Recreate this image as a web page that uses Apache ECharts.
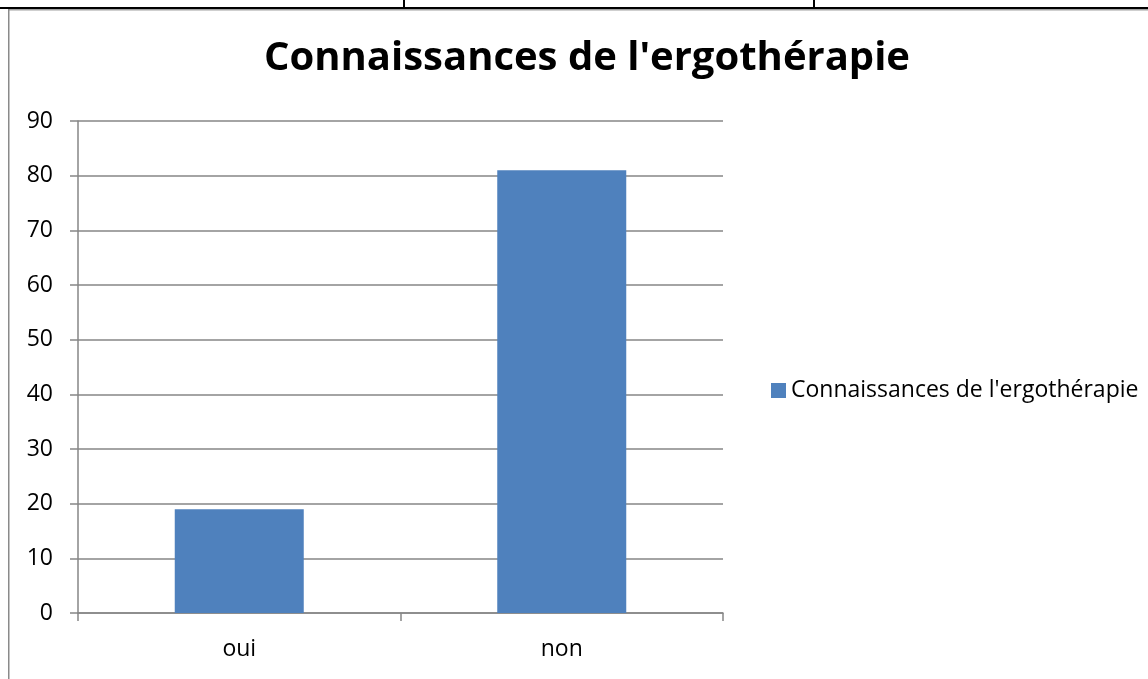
<!DOCTYPE html>
<html>
<head>
<meta charset="utf-8">
<script src="https://cdn.jsdelivr.net/npm/echarts@6/dist/echarts.min.js"></script>
<style>
  html, body { margin: 0; padding: 0; background: #fff; }
  #myChart { width: 1148px; height: 679px; }
</style>
</head>
<body>
<div id="myChart"></div>
<script>
// données du graphique
var categories = ['oui', 'non'];
var values = [19, 81];
var seriesName = "Connaissances de l'ergothérapie";
var titleText = "Connaissances de l'ergothérapie";
var yTicks = { min: 0, max: 90, interval: 10 };

var myChart = echarts.init(document.getElementById('myChart'));
var axisGrey = '#868686';
var font = '"Open Sans", "Noto Sans", sans-serif';

myChart.setOption({
    animation: false,
    title: {
        text: titleText,
        left: 582,
        top: 34,
        textAlign: 'center',
        textStyle: { fontFamily: font, fontWeight: 'bold', fontSize: 40, color: '#000' }
    },
    legend: {
        orient: 'vertical',
        left: 766,
        top: 374,
        icon: 'rect',
        itemWidth: 15,
        itemHeight: 15,
        itemGap: 7,
        data: [seriesName],
        textStyle: { fontFamily: font, fontSize: 23, color: '#000' }
    },
    grid: {
        left: 78,
        right: 425,
        top: 121,
        bottom: 66,
        containLabel: false
    },
    xAxis: {
        type: 'category',
        data: categories,
        axisLine: { lineStyle: { color: axisGrey, width: 1.5 } },
        axisTick: { show: true, length: 8, lineStyle: { color: axisGrey, width: 1.5 } },
        axisLabel: { fontFamily: font, fontSize: 23, color: '#000', margin: 25 }
    },
    yAxis: {
        type: 'value',
        min: yTicks.min,
        max: yTicks.max,
        interval: yTicks.interval,
        axisLine: { show: true, lineStyle: { color: axisGrey, width: 1.5 } },
        axisTick: { show: true, length: 8, lineStyle: { color: axisGrey, width: 1.5 } },
        axisLabel: { fontFamily: font, fontSize: 23, color: '#000', margin: 25 },
        splitLine: { show: true, lineStyle: { color: axisGrey, width: 1.5 } }
    },
    series: [
        {
            name: seriesName,
            type: 'bar',
            data: values,
            barWidth: '40%',
            itemStyle: { color: '#4F81BD' }
        }
    ],
    graphic: [
        // bordure du tableau au-dessus
        { type: 'rect', shape: { x: 0, y: 7, width: 1148, height: 2 }, style: { fill: '#000' } },
        { type: 'rect', shape: { x: 8, y: 9, width: 1140, height: 1.5 }, style: { fill: '#a0a0a0' } },
        { type: 'rect', shape: { x: 403, y: 0, width: 2, height: 8 }, style: { fill: '#000' } },
        { type: 'rect', shape: { x: 813, y: 0, width: 2, height: 8 }, style: { fill: '#000' } },
        // cadre gauche
        { type: 'rect', shape: { x: 8, y: 9, width: 1.5, height: 670 }, style: { fill: '#8a8a8a' } }
    ]
});
</script>
</body>
</html>
